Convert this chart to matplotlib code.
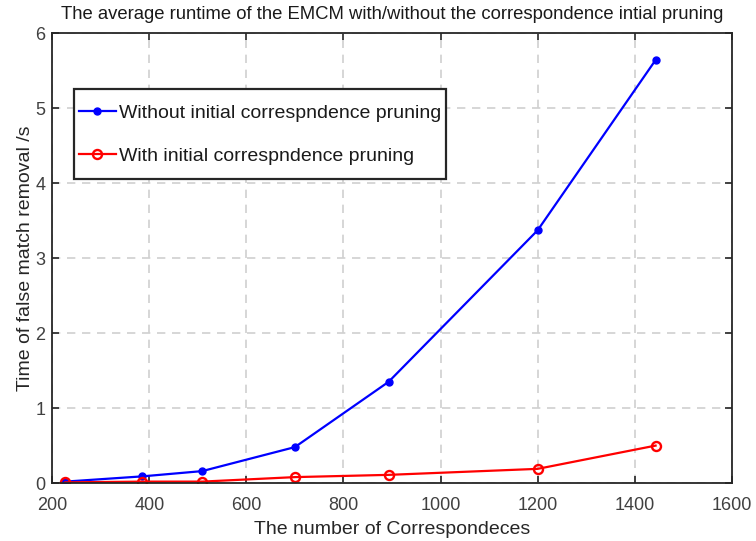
import matplotlib
matplotlib.use("Agg")
import matplotlib.pyplot as plt
from matplotlib.patches import Rectangle

plt.rcParams['font.family'] = ['Liberation Sans', 'DejaVu Sans']

correspondences = [227, 386, 509, 700, 893, 1200, 1443]
without_pruning = [0.02, 0.09, 0.16, 0.48, 1.35, 3.37, 5.64]
with_pruning = [0.01, 0.02, 0.02, 0.08, 0.11, 0.19, 0.50]

xticks = [200, 400, 600, 800, 1000, 1200, 1400, 1600]
yticks = [0, 1, 2, 3, 4, 5, 6]

fig = plt.figure(figsize=(7.56, 5.41), dpi=100)
ax = fig.add_axes([0.069, 0.107, 0.899, 0.832])

ax.plot(correspondences, without_pruning, color='#0000ff', lw=1.6, marker='o',
        ms=5, label='Without initial correspndence pruning')
ax.plot(correspondences, with_pruning, color='#ff0000', lw=1.6, marker='o',
        ms=6.5, mfc='none', mew=1.7, label='With initial correspndence pruning')

ax.set_xlim(200, 1600)
ax.set_ylim(0, 6)
ax.set_xticks(xticks)
ax.set_yticks(yticks)
ax.tick_params(direction='in', length=5, width=1.2, labelsize=13,
               top=True, right=True, colors='#262626', labelcolor='#404040')
ax.tick_params(axis='x', pad=10)
ax.tick_params(axis='y', pad=5)
ax.grid(True, linestyle=(0, (5, 4)), color='#d0d0d0', lw=1.2)
for s in ax.spines.values():
    s.set_linewidth(1.3)
    s.set_color('#262626')

ax.set_xlabel('The number of Correspondeces', fontsize=14, color='#262626', labelpad=5)
ax.set_ylabel('Time of false match removal /s', fontsize=14, color='#262626', labelpad=1)
ax.set_title('The average runtime of the EMCM with/without the correspondence intial pruning',
             fontsize=13.3, color='#1a1a1a', pad=10)

# legend entries without their own frame; a taller box is drawn around them
leg = ax.legend(loc='upper left', bbox_to_anchor=(0.032, 0.853), fontsize=14,
                frameon=False, handlelength=1.9, handletextpad=0.15,
                borderpad=0.25, labelspacing=1.3, borderaxespad=0)
for t in leg.get_texts():
    t.set_color('#1a1a1a')

fig.canvas.draw()
bb = leg.get_window_extent().transformed(ax.transAxes.inverted())
vpad = 10 / ax.get_window_extent().height
frame = Rectangle((bb.x0, bb.y0 - vpad), bb.width, bb.height + 2 * vpad,
                  transform=ax.transAxes, facecolor='white', edgecolor='#262626',
                  lw=1.6, zorder=4)
ax.add_patch(frame)
leg.set_zorder(5)

fig.savefig('out.png', dpi=100)
